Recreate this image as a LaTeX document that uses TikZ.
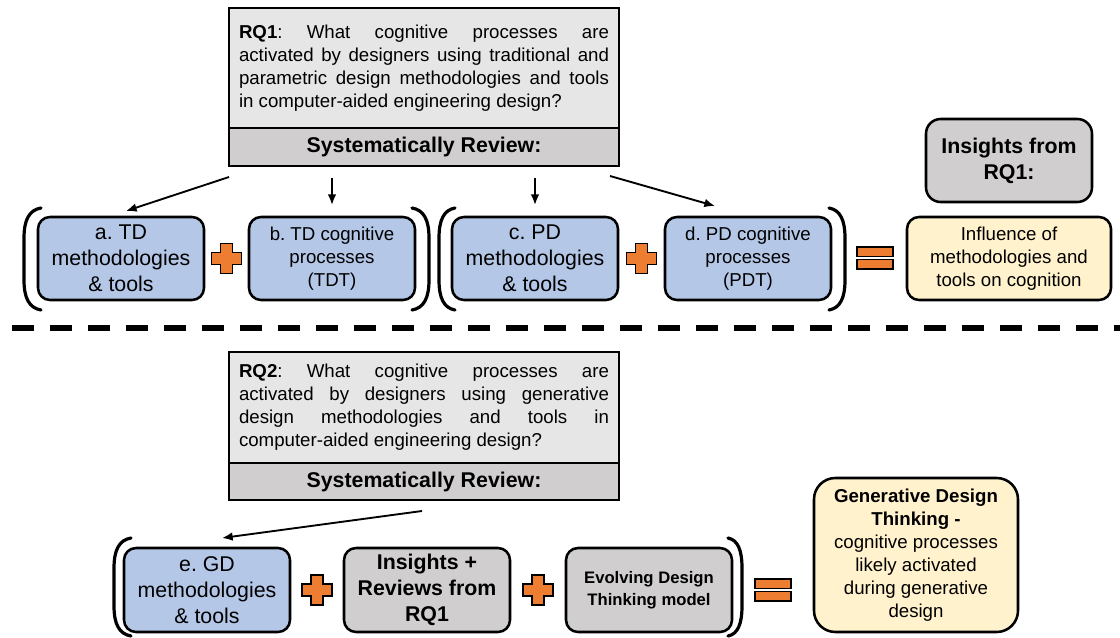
\documentclass[tikz,border=0pt]{standalone}
\usepackage{fontspec}
\setmainfont{Liberation Sans}
\usepackage{tikz}
\usetikzlibrary{positioning}
\usetikzlibrary{calc}
\usetikzlibrary{arrows.meta}
\usepackage{xcolor}
\definecolor{tdblue}{HTML}{B4C7E7}
\definecolor{rqgray}{HTML}{E7E6E6}
\definecolor{bandgray}{HTML}{D0CECE}
\definecolor{insgray}{HTML}{D0CECE}
\definecolor{outyellow}{HTML}{FFF2CC}
\definecolor{plusorange}{HTML}{ED7D31}
\setlength{\parindent}{0pt}
\frenchspacing
\newlength{\rqw}
\setlength{\rqw}{277.5pt}
\def\pxu{0.75pt}
\newcommand{\bigf}{\fontsize{16}{19.5}\selectfont}
\newcommand{\bigb}{\fontsize{16}{19.5}\selectfont\bfseries}
\newcommand{\medf}{\fontsize{14}{17.25}\selectfont}
\newcommand{\evob}{\fontsize{12.5}{16.5}\selectfont\bfseries}
\tikzset{
	box/.style = {draw, line width=1.9pt, rounded corners=9pt, align=center, inner sep=0pt, outer sep=0pt, minimum height=83*\pxu, minimum width=166*\pxu},
	tdbox/.style = {box, fill=tdblue},
	greybox/.style = {box, fill=insgray, font=\bigb},
	outbox/.style = {box, fill=outyellow, minimum width=204*\pxu, font=\medf},
	rqbox/.style = {draw, line width=2.2pt, fill=rqgray, minimum width=390*\pxu, text width=\rqw, align=justify, inner sep=0pt, outer sep=0pt, font=\medf},
	band/.style = {draw, line width=2.2pt, fill=bandgray, minimum width=390*\pxu, inner sep=0pt, outer sep=0pt, font=\bigb},
	arr/.style = {-{Latex[length=8pt,width=6.5pt]}, line width=1.4pt},
	brk/.style = {line width=2.4pt, line cap=round},
	plusbar/.style = {fill=plusorange, draw=black, line width=1.4pt},
	sepline/.style = {line width=4.5pt, dash pattern=on 16.5pt off 12pt}
}
% orange plus and equals signs
\newcommand{\orplus}[1]{\draw[plusbar, shift={#1}] (-6,-15) -- (6,-15) -- (6,-6) -- (15,-6) -- (15,6) -- (6,6) -- (6,15) -- (-6,15) -- (-6,6) -- (-15,6) -- (-15,-6) -- (-6,-6) -- cycle;}
\newcommand{\oreq}[1]{\draw[plusbar, shift={#1}] (-18,-11) rectangle (18,-1.5) (-18,1.5) rectangle (18,11);}
% round bracket: end x, bulge x, top y, bottom y
\newcommand{\parenat}[4]{\draw[brk] (#1,#3) .. controls ({#2+0.3*(#1-#2)},{#3+2}) and (#2,{#3+12}) .. (#2,{#3+30}) -- (#2,{#4-30}) .. controls (#2,{#4-12}) and ({#2+0.3*(#1-#2)},{#4-2}) .. (#1,#4);}

\begin{document}
\begin{tikzpicture}[x=0.75pt, y=-0.75pt]
	\useasboundingbox (0,0) rectangle (1120,638);

	% RQ1
	\node (rq1) [rqbox, minimum height=120*\pxu] at (424,68) {\textbf{RQ1}: What cognitive processes are\linebreak
		activated by designers using traditional and\linebreak
		parametric design methodologies and tools\linebreak
		in computer-aided engineering design?};
	\node (rv1) [band, minimum height=38*\pxu, below=0pt of rq1] {Systematically Review:};

	\node (a) [tdbox, font=\bigf] at (121,258.5) {a. TD\\methodologies\\\& tools};
	\node (b) [tdbox, font=\medf, right=33.75pt of a] {b. TD cognitive\\processes\\(TDT)};
	\node (c) [tdbox, font=\bigf, right=27.75pt of b] {c. PD\\methodologies\\\& tools};
	\node (d) [tdbox, font=\medf, right=35.25pt of c] {d. PD cognitive\\processes\\(PDT)};
	\node (infl) [outbox, right=57pt of d] {Influence of\\methodologies and\\tools on cognition};
	\node (ins1) [greybox, rounded corners=11pt, above=11.25pt of infl] {Insights from\\RQ1:};

	\draw[arr] ($(rv1.south west)+(0,11)$) -- ($(a.north)+(5,-6)$);
	\draw[arr] ($(rv1.south -| b.north)+(0,12)$) -- ($(b.north)+(0,-12)$);
	\draw[arr] ($(rv1.south -| c.north)+(0,12)$) -- ($(c.north)+(0,-12)$);
	\draw[arr] ($(rv1.south east)+(-9,10)$) -- ($(d.north)+(-33,-11)$);

	\orplus{($(a.east)!0.5!(b.west)$)}
	\orplus{($(c.east)!0.5!(d.west)$)}
	\oreq{(875,258)}
	\parenat{41}{24}{208}{310}
	\parenat{412}{429}{208}{310}
	\parenat{455}{439}{208}{310}
	\parenat{829}{845}{208}{310}

	\draw[sepline] (12,328) -- (1120,328);

	% RQ2
	\node (rq2) [rqbox, minimum height=111*\pxu] at (424,407.5) {\textbf{RQ2}: What cognitive processes are\linebreak
		activated by designers using generative\linebreak
		design methodologies and tools in\linebreak
		computer-aided engineering design?};
	\node (rv2) [band, minimum height=37*\pxu, below=0pt of rq2] {Systematically Review:};

	\node (e) [tdbox, font=\bigf, minimum height=84*\pxu] at (207,590) {e. GD\\methodologies\\\& tools};
	\node (ins2) [greybox, minimum height=84*\pxu, right=40.5pt of e] {Insights +\\Reviews from\\RQ1};
	\node (evo) [greybox, font=\evob, minimum height=84*\pxu, right=42pt of ins2] {Evolving Design\\Thinking model};
	\node (gen) [outbox, rounded corners=16pt, minimum height=154*\pxu, anchor=south west] at ($(evo.south east)+(82,0)$) {\textbf{Generative Design}\\\textbf{Thinking -}\\cognitive processes\\likely activated\\during generative\\design};

	\draw[arr] ($(rv2.south)+(-2,11)$) -- ($(e.north)+(15,-10)$);

	\orplus{($(e.east)!0.5!(ins2.west)$)}
	\orplus{($(ins2.east)!0.5!(evo.west)$)}
	\oreq{(773,590)}
	\parenat{131}{114}{538}{636}
	\parenat{728}{742}{538}{636}
\end{tikzpicture}
\end{document}
